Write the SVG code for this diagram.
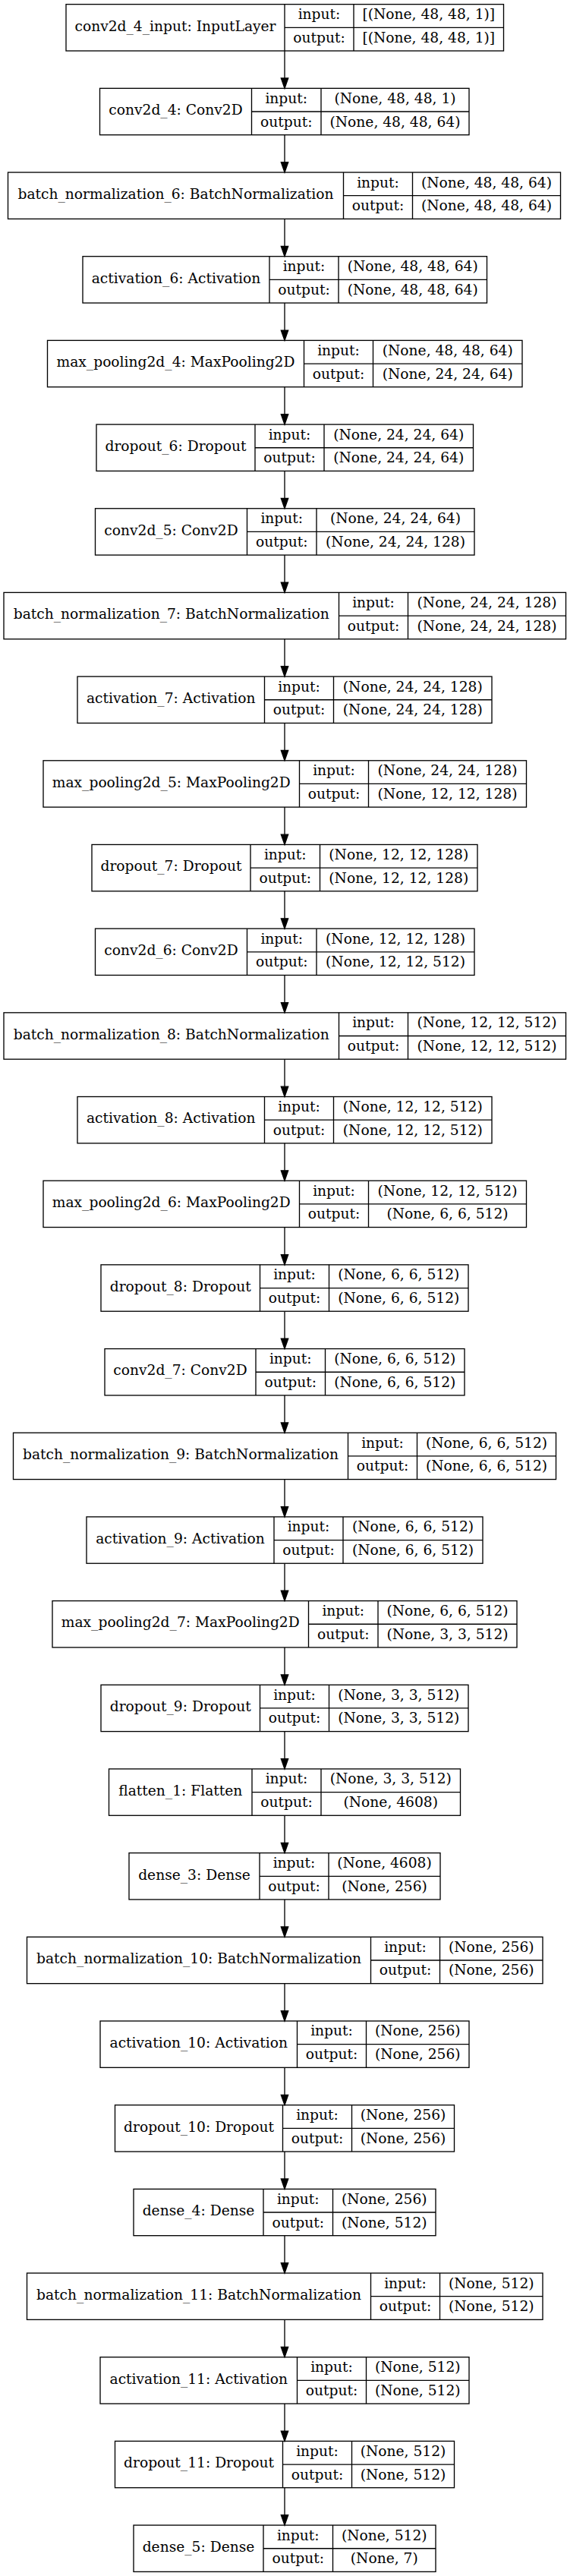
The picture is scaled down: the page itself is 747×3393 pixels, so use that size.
<svg xmlns="http://www.w3.org/2000/svg" width="747" height="3393" viewBox="0 0 747 3393">
<style>
.b{fill:none;stroke:#000;stroke-width:1.33}
text{font-family:"DejaVu Serif","Liberation Serif",serif;font-size:18.67px;fill:#000;text-anchor:middle}
.e{fill:none;stroke:#000;stroke-width:1.33;marker-end:url(#ah)}
</style>
<defs>
<marker id="ah" markerUnits="userSpaceOnUse" markerWidth="16" markerHeight="12" viewBox="-1 -6 16 12" refX="0" refY="0" orient="auto">
<path d="M0,-4.67L13.33,0L0,4.67Z" fill="#000" stroke="#000" stroke-width="1.33"/>
</marker>
</defs>
<rect x="0" y="0" width="747" height="3393" fill="#fff"/>
<g id="connectors">
<line class="e" x1="375" y1="67.00" x2="375" y2="103.02"/>
<line class="e" x1="375" y1="177.68" x2="375" y2="213.70"/>
<line class="e" x1="375" y1="288.36" x2="375" y2="324.38"/>
<line class="e" x1="375" y1="399.04" x2="375" y2="435.06"/>
<line class="e" x1="375" y1="509.72" x2="375" y2="545.74"/>
<line class="e" x1="375" y1="620.40" x2="375" y2="656.42"/>
<line class="e" x1="375" y1="731.08" x2="375" y2="767.10"/>
<line class="e" x1="375" y1="841.76" x2="375" y2="877.78"/>
<line class="e" x1="375" y1="952.44" x2="375" y2="988.46"/>
<line class="e" x1="375" y1="1063.12" x2="375" y2="1099.14"/>
<line class="e" x1="375" y1="1173.80" x2="375" y2="1209.82"/>
<line class="e" x1="375" y1="1284.48" x2="375" y2="1320.50"/>
<line class="e" x1="375" y1="1395.16" x2="375" y2="1431.18"/>
<line class="e" x1="375" y1="1505.84" x2="375" y2="1541.86"/>
<line class="e" x1="375" y1="1616.52" x2="375" y2="1652.54"/>
<line class="e" x1="375" y1="1727.20" x2="375" y2="1763.22"/>
<line class="e" x1="375" y1="1837.88" x2="375" y2="1873.90"/>
<line class="e" x1="375" y1="1948.56" x2="375" y2="1984.58"/>
<line class="e" x1="375" y1="2059.24" x2="375" y2="2095.26"/>
<line class="e" x1="375" y1="2169.92" x2="375" y2="2205.94"/>
<line class="e" x1="375" y1="2280.60" x2="375" y2="2316.62"/>
<line class="e" x1="375" y1="2391.28" x2="375" y2="2427.30"/>
<line class="e" x1="375" y1="2501.96" x2="375" y2="2537.98"/>
<line class="e" x1="375" y1="2612.64" x2="375" y2="2648.66"/>
<line class="e" x1="375" y1="2723.32" x2="375" y2="2759.34"/>
<line class="e" x1="375" y1="2834.00" x2="375" y2="2870.02"/>
<line class="e" x1="375" y1="2944.68" x2="375" y2="2980.70"/>
<line class="e" x1="375" y1="3055.36" x2="375" y2="3091.38"/>
<line class="e" x1="375" y1="3166.04" x2="375" y2="3202.06"/>
<line class="e" x1="375" y1="3276.72" x2="375" y2="3312.74"/>
</g>

<g id="n0" transform="translate(0,5.67)"><rect class="b" x="87" y="0" width="576.5" height="61.33"/><path class="b" d="M375,0V61.33M466,0V61.33M375,30.67H663.5"/><text x="231" y="34.9">conv2d_4_input: InputLayer</text><text x="420.5" y="19.5">input:</text><text x="420.5" y="50.2">output:</text><text x="564.75" y="19.5">[(None, 48, 48, 1)]</text><text x="564.75" y="50.2">[(None, 48, 48, 1)]</text></g>

<g id="n1" transform="translate(0,116.35)"><rect class="b" x="131.5" y="0" width="486.5" height="61.33"/><path class="b" d="M331.5,0V61.33M423,0V61.33M331.5,30.67H618"/><text x="231.5" y="34.9">conv2d_4: Conv2D</text><text x="377.25" y="19.5">input:</text><text x="377.25" y="50.2">output:</text><text x="520.5" y="19.5">(None, 48, 48, 1)</text><text x="520.5" y="50.2">(None, 48, 48, 64)</text></g>

<g id="n2" transform="translate(0,227.03)"><rect class="b" x="10.5" y="0" width="728" height="61.33"/><path class="b" d="M452.5,0V61.33M543.5,0V61.33M452.5,30.67H738.5"/><text x="231.5" y="34.9">batch_normalization_6: BatchNormalization</text><text x="498" y="19.5">input:</text><text x="498" y="50.2">output:</text><text x="641" y="19.5">(None, 48, 48, 64)</text><text x="641" y="50.2">(None, 48, 48, 64)</text></g>

<g id="n3" transform="translate(0,337.71)"><rect class="b" x="109" y="0" width="532.5" height="61.33"/><path class="b" d="M355,0V61.33M446,0V61.33M355,30.67H641.5"/><text x="232" y="34.9">activation_6: Activation</text><text x="400.5" y="19.5">input:</text><text x="400.5" y="50.2">output:</text><text x="543.75" y="19.5">(None, 48, 48, 64)</text><text x="543.75" y="50.2">(None, 48, 48, 64)</text></g>

<g id="n4" transform="translate(0,448.39)"><rect class="b" x="62.5" y="0" width="625.5" height="61.33"/><path class="b" d="M400.5,0V61.33M491.5,0V61.33M400.5,30.67H688"/><text x="231.5" y="34.9">max_pooling2d_4: MaxPooling2D</text><text x="446" y="19.5">input:</text><text x="446" y="50.2">output:</text><text x="589.75" y="19.5">(None, 48, 48, 64)</text><text x="589.75" y="50.2">(None, 24, 24, 64)</text></g>

<g id="n5" transform="translate(0,559.07)"><rect class="b" x="127" y="0" width="496.5" height="61.33"/><path class="b" d="M336,0V61.33M427,0V61.33M336,30.67H623.5"/><text x="231.5" y="34.9">dropout_6: Dropout</text><text x="381.5" y="19.5">input:</text><text x="381.5" y="50.2">output:</text><text x="525.25" y="19.5">(None, 24, 24, 64)</text><text x="525.25" y="50.2">(None, 24, 24, 64)</text></g>

<g id="n6" transform="translate(0,669.75)"><rect class="b" x="125.5" y="0" width="499.5" height="61.33"/><path class="b" d="M325.5,0V61.33M417,0V61.33M325.5,30.67H625"/><text x="225.5" y="34.9">conv2d_5: Conv2D</text><text x="371.25" y="19.5">input:</text><text x="371.25" y="50.2">output:</text><text x="521" y="19.5">(None, 24, 24, 64)</text><text x="521" y="50.2">(None, 24, 24, 128)</text></g>

<g id="n7" transform="translate(0,780.43)"><rect class="b" x="5" y="0" width="740.5" height="61.33"/><path class="b" d="M446.5,0V61.33M537.5,0V61.33M446.5,30.67H745.5"/><text x="225.75" y="34.9">batch_normalization_7: BatchNormalization</text><text x="492" y="19.5">input:</text><text x="492" y="50.2">output:</text><text x="641.5" y="19.5">(None, 24, 24, 128)</text><text x="641.5" y="50.2">(None, 24, 24, 128)</text></g>

<g id="n8" transform="translate(0,891.11)"><rect class="b" x="102" y="0" width="546" height="61.33"/><path class="b" d="M348.5,0V61.33M439.5,0V61.33M348.5,30.67H648"/><text x="225.25" y="34.9">activation_7: Activation</text><text x="394" y="19.5">input:</text><text x="394" y="50.2">output:</text><text x="543.75" y="19.5">(None, 24, 24, 128)</text><text x="543.75" y="50.2">(None, 24, 24, 128)</text></g>

<g id="n9" transform="translate(0,1001.79)"><rect class="b" x="57" y="0" width="636.5" height="61.33"/><path class="b" d="M394.5,0V61.33M485.5,0V61.33M394.5,30.67H693.5"/><text x="225.75" y="34.9">max_pooling2d_5: MaxPooling2D</text><text x="440" y="19.5">input:</text><text x="440" y="50.2">output:</text><text x="589.5" y="19.5">(None, 24, 24, 128)</text><text x="589.5" y="50.2">(None, 12, 12, 128)</text></g>

<g id="n10" transform="translate(0,1112.47)"><rect class="b" x="121" y="0" width="508" height="61.33"/><path class="b" d="M330,0V61.33M421.5,0V61.33M330,30.67H629"/><text x="225.5" y="34.9">dropout_7: Dropout</text><text x="375.75" y="19.5">input:</text><text x="375.75" y="50.2">output:</text><text x="525.25" y="19.5">(None, 12, 12, 128)</text><text x="525.25" y="50.2">(None, 12, 12, 128)</text></g>

<g id="n11" transform="translate(0,1223.15)"><rect class="b" x="125.5" y="0" width="499.5" height="61.33"/><path class="b" d="M325.5,0V61.33M417,0V61.33M325.5,30.67H625"/><text x="225.5" y="34.9">conv2d_6: Conv2D</text><text x="371.25" y="19.5">input:</text><text x="371.25" y="50.2">output:</text><text x="521" y="19.5">(None, 12, 12, 128)</text><text x="521" y="50.2">(None, 12, 12, 512)</text></g>

<g id="n12" transform="translate(0,1333.83)"><rect class="b" x="5" y="0" width="740.5" height="61.33"/><path class="b" d="M446.5,0V61.33M537.5,0V61.33M446.5,30.67H745.5"/><text x="225.75" y="34.9">batch_normalization_8: BatchNormalization</text><text x="492" y="19.5">input:</text><text x="492" y="50.2">output:</text><text x="641.5" y="19.5">(None, 12, 12, 512)</text><text x="641.5" y="50.2">(None, 12, 12, 512)</text></g>

<g id="n13" transform="translate(0,1444.51)"><rect class="b" x="102" y="0" width="546" height="61.33"/><path class="b" d="M348.5,0V61.33M439.5,0V61.33M348.5,30.67H648"/><text x="225.25" y="34.9">activation_8: Activation</text><text x="394" y="19.5">input:</text><text x="394" y="50.2">output:</text><text x="543.75" y="19.5">(None, 12, 12, 512)</text><text x="543.75" y="50.2">(None, 12, 12, 512)</text></g>

<g id="n14" transform="translate(0,1555.19)"><rect class="b" x="57" y="0" width="636.5" height="61.33"/><path class="b" d="M394.5,0V61.33M485.5,0V61.33M394.5,30.67H693.5"/><text x="225.75" y="34.9">max_pooling2d_6: MaxPooling2D</text><text x="440" y="19.5">input:</text><text x="440" y="50.2">output:</text><text x="589.5" y="19.5">(None, 12, 12, 512)</text><text x="589.5" y="50.2">(None, 6, 6, 512)</text></g>

<g id="n15" transform="translate(0,1665.87)"><rect class="b" x="133" y="0" width="484" height="61.33"/><path class="b" d="M342.5,0V61.33M433.5,0V61.33M342.5,30.67H617"/><text x="237.75" y="34.9">dropout_8: Dropout</text><text x="388" y="19.5">input:</text><text x="388" y="50.2">output:</text><text x="525.25" y="19.5">(None, 6, 6, 512)</text><text x="525.25" y="50.2">(None, 6, 6, 512)</text></g>

<g id="n16" transform="translate(0,1776.55)"><rect class="b" x="138" y="0" width="474" height="61.33"/><path class="b" d="M337,0V61.33M428.5,0V61.33M337,30.67H612"/><text x="237.5" y="34.9">conv2d_7: Conv2D</text><text x="382.75" y="19.5">input:</text><text x="382.75" y="50.2">output:</text><text x="520.25" y="19.5">(None, 6, 6, 512)</text><text x="520.25" y="50.2">(None, 6, 6, 512)</text></g>

<g id="n17" transform="translate(0,1887.23)"><rect class="b" x="17.5" y="0" width="715" height="61.33"/><path class="b" d="M458.5,0V61.33M549.5,0V61.33M458.5,30.67H732.5"/><text x="238" y="34.9">batch_normalization_9: BatchNormalization</text><text x="504" y="19.5">input:</text><text x="504" y="50.2">output:</text><text x="641" y="19.5">(None, 6, 6, 512)</text><text x="641" y="50.2">(None, 6, 6, 512)</text></g>

<g id="n18" transform="translate(0,1997.91)"><rect class="b" x="114" y="0" width="522" height="61.33"/><path class="b" d="M361,0V61.33M452,0V61.33M361,30.67H636"/><text x="237.5" y="34.9">activation_9: Activation</text><text x="406.5" y="19.5">input:</text><text x="406.5" y="50.2">output:</text><text x="544" y="19.5">(None, 6, 6, 512)</text><text x="544" y="50.2">(None, 6, 6, 512)</text></g>

<g id="n19" transform="translate(0,2108.59)"><rect class="b" x="69" y="0" width="612" height="61.33"/><path class="b" d="M406.5,0V61.33M498,0V61.33M406.5,30.67H681"/><text x="237.75" y="34.9">max_pooling2d_7: MaxPooling2D</text><text x="452.25" y="19.5">input:</text><text x="452.25" y="50.2">output:</text><text x="589.5" y="19.5">(None, 6, 6, 512)</text><text x="589.5" y="50.2">(None, 3, 3, 512)</text></g>

<g id="n20" transform="translate(0,2219.27)"><rect class="b" x="133" y="0" width="484" height="61.33"/><path class="b" d="M342.5,0V61.33M433.5,0V61.33M342.5,30.67H617"/><text x="237.75" y="34.9">dropout_9: Dropout</text><text x="388" y="19.5">input:</text><text x="388" y="50.2">output:</text><text x="525.25" y="19.5">(None, 3, 3, 512)</text><text x="525.25" y="50.2">(None, 3, 3, 512)</text></g>

<g id="n21" transform="translate(0,2329.95)"><rect class="b" x="143.5" y="0" width="463" height="61.33"/><path class="b" d="M332,0V61.33M423,0V61.33M332,30.67H606.5"/><text x="237.75" y="34.9">flatten_1: Flatten</text><text x="377.5" y="19.5">input:</text><text x="377.5" y="50.2">output:</text><text x="514.75" y="19.5">(None, 3, 3, 512)</text><text x="514.75" y="50.2">(None, 4608)</text></g>

<g id="n22" transform="translate(0,2440.63)"><rect class="b" x="170" y="0" width="410" height="61.33"/><path class="b" d="M342,0V61.33M433,0V61.33M342,30.67H580"/><text x="256" y="34.9">dense_3: Dense</text><text x="387.5" y="19.5">input:</text><text x="387.5" y="50.2">output:</text><text x="506.5" y="19.5">(None, 4608)</text><text x="506.5" y="50.2">(None, 256)</text></g>

<g id="n23" transform="translate(0,2551.31)"><rect class="b" x="35.5" y="0" width="679.5" height="61.33"/><path class="b" d="M488.5,0V61.33M579.5,0V61.33M488.5,30.67H715"/><text x="262" y="34.9">batch_normalization_10: BatchNormalization</text><text x="534" y="19.5">input:</text><text x="534" y="50.2">output:</text><text x="647.25" y="19.5">(None, 256)</text><text x="647.25" y="50.2">(None, 256)</text></g>

<g id="n24" transform="translate(0,2661.99)"><rect class="b" x="132" y="0" width="486" height="61.33"/><path class="b" d="M391.5,0V61.33M482.5,0V61.33M391.5,30.67H618"/><text x="261.75" y="34.9">activation_10: Activation</text><text x="437" y="19.5">input:</text><text x="437" y="50.2">output:</text><text x="550.25" y="19.5">(None, 256)</text><text x="550.25" y="50.2">(None, 256)</text></g>

<g id="n25" transform="translate(0,2772.67)"><rect class="b" x="151.5" y="0" width="447" height="61.33"/><path class="b" d="M372.5,0V61.33M463.5,0V61.33M372.5,30.67H598.5"/><text x="262" y="34.9">dropout_10: Dropout</text><text x="418" y="19.5">input:</text><text x="418" y="50.2">output:</text><text x="531" y="19.5">(None, 256)</text><text x="531" y="50.2">(None, 256)</text></g>

<g id="n26" transform="translate(0,2883.35)"><rect class="b" x="176" y="0" width="398" height="61.33"/><path class="b" d="M347,0V61.33M438.5,0V61.33M347,30.67H574"/><text x="261.5" y="34.9">dense_4: Dense</text><text x="392.75" y="19.5">input:</text><text x="392.75" y="50.2">output:</text><text x="506.25" y="19.5">(None, 256)</text><text x="506.25" y="50.2">(None, 512)</text></g>

<g id="n27" transform="translate(0,2994.03)"><rect class="b" x="35.5" y="0" width="679.5" height="61.33"/><path class="b" d="M488.5,0V61.33M579.5,0V61.33M488.5,30.67H715"/><text x="262" y="34.9">batch_normalization_11: BatchNormalization</text><text x="534" y="19.5">input:</text><text x="534" y="50.2">output:</text><text x="647.25" y="19.5">(None, 512)</text><text x="647.25" y="50.2">(None, 512)</text></g>

<g id="n28" transform="translate(0,3104.71)"><rect class="b" x="132" y="0" width="486" height="61.33"/><path class="b" d="M391.5,0V61.33M482.5,0V61.33M391.5,30.67H618"/><text x="261.75" y="34.9">activation_11: Activation</text><text x="437" y="19.5">input:</text><text x="437" y="50.2">output:</text><text x="550.25" y="19.5">(None, 512)</text><text x="550.25" y="50.2">(None, 512)</text></g>

<g id="n29" transform="translate(0,3215.39)"><rect class="b" x="151.5" y="0" width="447" height="61.33"/><path class="b" d="M372.5,0V61.33M463.5,0V61.33M372.5,30.67H598.5"/><text x="262" y="34.9">dropout_11: Dropout</text><text x="418" y="19.5">input:</text><text x="418" y="50.2">output:</text><text x="531" y="19.5">(None, 512)</text><text x="531" y="50.2">(None, 512)</text></g>

<g id="n30" transform="translate(0,3326.07)"><rect class="b" x="176" y="0" width="398" height="61.33"/><path class="b" d="M347,0V61.33M438.5,0V61.33M347,30.67H574"/><text x="261.5" y="34.9">dense_5: Dense</text><text x="392.75" y="19.5">input:</text><text x="392.75" y="50.2">output:</text><text x="506.25" y="19.5">(None, 512)</text><text x="506.25" y="50.2">(None, 7)</text></g>
</svg>
